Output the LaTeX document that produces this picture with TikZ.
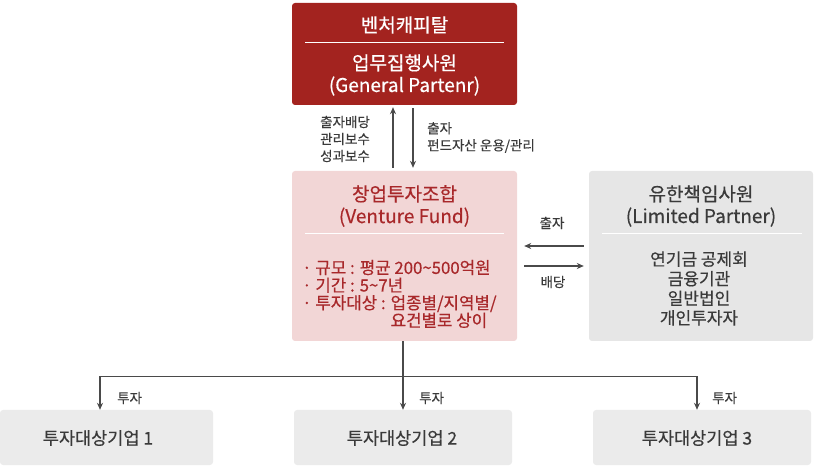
\documentclass[tikz,border=0pt]{standalone}
\usepackage{fontspec}
\setmainfont{Noto Sans CJK KR}[FakeBold=0.45]
\usetikzlibrary{arrows.meta,calc}
\definecolor{gpred}{HTML}{A3231F}
\definecolor{fundbg}{HTML}{F2D6D6}
\definecolor{fundtx}{HTML}{A8282A}
\definecolor{lpbg}{HTML}{E6E6E6}
\definecolor{cobg}{HTML}{EBEBEB}
\definecolor{tx}{HTML}{3A3A3A}
\definecolor{ln}{HTML}{4A4A4A}
\tikzset{
  box/.style={draw=none, rounded corners=3pt, inner sep=0pt},
  arr/.style={draw=ln, line width=1.1pt, -{Stealth[length=7pt,width=6pt]}},
  plain/.style={draw=ln, line width=1.1pt},
  sep/.style={draw=white, line width=1pt},
  lbl/.style={text=tx, font=\fontsize{13.5}{17}\selectfont, inner sep=0pt, align=left},
  big/.style={font=\fontsize{19}{22}\selectfont, align=center, inner sep=0pt},
}
\begin{document}
\begin{tikzpicture}[x=1pt,y=-1pt]
\useasboundingbox (0,0) rectangle (815,473);
% boxes
\node[box, fill=gpred, minimum width=225pt, minimum height=102pt] (gp) at (404.5,54) {};
\node[box, fill=fundbg, minimum width=225pt, minimum height=170pt] (fund) at (404.5,256) {};
\node[box, fill=lpbg, minimum width=224pt, minimum height=170pt] (lp) at (701,256) {};
\node[box, fill=cobg, minimum width=213pt, minimum height=55pt] (b1) at (106.5,437.5) {};
\node[box, fill=cobg, minimum width=218pt, minimum height=55pt] (b2) at (403,437.5) {};
\node[box, fill=cobg, minimum width=218pt, minimum height=55pt] (b3) at (702,437.5) {};
% GP text
\node[big, text=white] (gpt1) at (404.5,25) {벤처캐피탈};
\draw[sep] (305,43) -- (504,43);
\node[big, text=white] (gpt2) at (404.5,75) {업무집행사원\\(General Partenr)};
% Fund text
\node[big, text=fundtx] (ft1) at (404.5,206) {창업투자조합\\(Venture Fund)};
\draw[sep] (305,234) -- (504,234);
\node[text=fundtx, font=\fontsize{16.8}{17.6}\selectfont, align=left, anchor=west, inner sep=0pt] (ft2) at (302,294)
  {· 규모 : 평균 200\textasciitilde 500억원\\· 기간 : 5\textasciitilde 7년\\· 투자대상 : 업종별/지역별/\\\hphantom{· 투자대상 : }요건별로 상이};
% LP text
\node[big, text=tx] (lt1) at (701,206) {유한책임사원\\(Limited Partner)};
\draw[sep] (602,234) -- (802,234);
\node[text=tx, font=\fontsize{17}{19.6}\selectfont, align=center, inner sep=0pt] (lt2) at (699,288.5) {연기금 공제회\\금융기관\\일반법인\\개인투자자};
% bottom texts
\node[text=tx, font=\fontsize{17.5}{20}\selectfont, inner sep=0pt] (bt1) at (98,438) {투자대상기업 1};
\node[text=tx, font=\fontsize{17.5}{20}\selectfont, inner sep=0pt] (bt2) at (402,438) {투자대상기업 2};
\node[text=tx, font=\fontsize{17.5}{20}\selectfont, inner sep=0pt] (bt3) at (697,438) {투자대상기업 3};
% GP <-> Fund arrows
\draw[arr, shorten <=3pt, shorten >=2pt] ([xshift=-11.5pt]fund.north) -- ([xshift=-11.5pt]gp.south);
\draw[arr, shorten <=3pt, shorten >=3pt] ([xshift=8.5pt]gp.south) -- ([xshift=8.5pt]fund.north);
\node[lbl, anchor=west] (l1) at (320,139) {출자배당\\관리보수\\성과보수};
\node[lbl, anchor=west] (l2) at (427,137.5) {출자\\펀드자산 운용/관리};
% Fund <-> LP arrows
\draw[arr, shorten <=5pt, shorten >=7pt] ([yshift=10pt]lp.west) -- ([yshift=10pt]fund.east);
\draw[arr, shorten <=7pt, shorten >=5pt] ([yshift=-10pt]fund.east) -- ([yshift=-10pt]lp.west);
\node[lbl] (l3) at (552,223) {출자};
\node[lbl] (l4) at (553,282) {배당};
% Fund -> companies
\coordinate (j) at ($(fund.south)+(-1.5,35)$);
\draw[plain] ([xshift=-1.5pt]fund.south) -- (j);
\draw[arr] (j) -| ([xshift=-6.5pt]b1.north);
\draw[arr] (j) -| ([xshift=-5pt]b3.north);
\draw[arr] (j) -- (j |- b2.north);
\node[lbl, anchor=west] (t1) at (117,398) {투자};
\node[lbl, anchor=west] (t2) at (419,398) {투자};
\node[lbl, anchor=west] (t3) at (712,398) {투자};
\end{tikzpicture}
\end{document}
